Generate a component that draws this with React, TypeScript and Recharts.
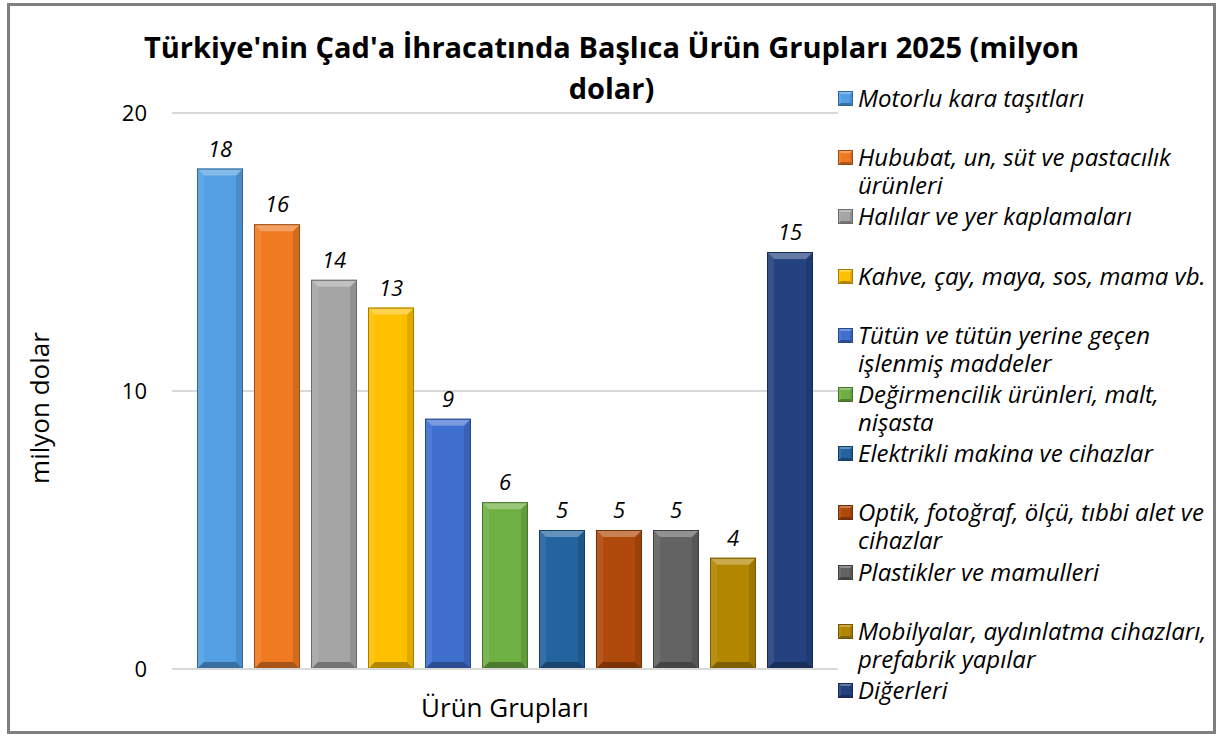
import { BarChart, Bar, XAxis, YAxis, CartesianGrid, LabelList } from "recharts";

const TITLE_LINES = ["Türkiye'nin Çad'a İhracatında Başlıca Ürün Grupları 2025 (milyon", "dolar)"];
const CATEGORY = "Ürün Grupları";
const Y_LABEL = "milyon dolar";
const Y_TICKS = [0, 10, 20];

// legend text, "\n" marks where the original wraps
const SERIES_NAMES = [
  "Motorlu kara taşıtları",
  "Hububat, un, süt ve pastacılık\nürünleri",
  "Halılar ve yer kaplamaları",
  "Kahve, çay, maya, sos, mama vb.",
  "Tütün ve tütün yerine geçen\nişlenmiş maddeler",
  "Değirmencilik ürünleri, malt,\nnişasta",
  "Elektrikli makina ve cihazlar",
  "Optik, fotoğraf, ölçü, tıbbi alet ve\ncihazlar",
  "Plastikler ve mamulleri",
  "Mobilyalar, aydınlatma cihazları,\nprefabrik yapılar",
  "Diğerleri",
];
const SERIES_VALUES = [18, 16, 14, 13, 9, 6, 5, 5, 5, 4, 15];
const SERIES_COLORS = [
  "#529fe4", "#ef7a22", "#a5a5a5", "#ffc000", "#3f6fcf", "#6fb043",
  "#2363a0", "#b04a0c", "#636363", "#b38600", "#23427f",
];

const row: Record<string, string | number> = { name: CATEGORY };
SERIES_VALUES.forEach((v, i) => { row[`s${i}`] = v; });
const data = [row];

const FONT = "'Open Sans', 'Liberation Sans', sans-serif";

function shade(hex: string, amt: number) {
  const n = parseInt(hex.slice(1), 16);
  const ch = [(n >> 16) & 255, (n >> 8) & 255, n & 255];
  const f = (c: number) => (amt < 0 ? Math.round(c * (1 + amt)) : Math.round(c + (255 - c) * amt));
  return `rgb(${ch.map(f).join(",")})`;
}

function Bevel({ x, y, w, h, color, b }: { x: number; y: number; w: number; h: number; color: string; b: number }) {
  return (
    <g>
      <rect x={x} y={y} width={w} height={h} fill={color} />
      <polygon points={`${x},${y} ${x + b},${y + b} ${x + b},${y + h - b} ${x},${y + h}`} fill={shade(color, 0.08)} />
      <polygon points={`${x + w},${y} ${x + w - b},${y + b} ${x + w - b},${y + h - b} ${x + w},${y + h}`} fill={shade(color, -0.12)} />
      <polygon points={`${x},${y} ${x + w},${y} ${x + w - b},${y + b} ${x + b},${y + b}`} fill={shade(color, 0.3)} />
      <polygon points={`${x},${y + h} ${x + w},${y + h} ${x + w - b},${y + h - b} ${x + b},${y + h - b}`} fill={shade(color, -0.3)} />
      <rect x={x + 0.5} y={y + 0.5} width={w - 1} height={h - 1} fill="none" stroke={shade(color, -0.35)} strokeWidth={1} />
    </g>
  );
}

function BevelBar(props: any) {
  const { x, y, width, height, fill } = props;
  if (!height || height <= 0) return null;
  return <Bevel x={x} y={y} w={width} h={height} color={fill} b={Math.min(7, width / 4, height / 2)} />;
}

function YLabel(props: any) {
  const vb = props.viewBox || {};
  const cx = vb.x + 17;
  const cy = vb.y + vb.height / 2 + 17;
  return (
    <text x={cx} y={cy} transform={`rotate(-90 ${cx} ${cy})`} textAnchor="middle" dominantBaseline="central"
      fontSize={26} fill="#000" fontFamily={FONT}>
      {Y_LABEL}
    </text>
  );
}

export default function App() {
  return (
    <div style={{ position: "absolute", left: 0, top: 0, width: 1223, height: 737, background: "#fff", fontFamily: FONT }}>
      <div style={{ position: "absolute", left: 7, top: 3, width: 1203, height: 725, border: "3px solid #7f7f7f" }} />
      <div style={{ position: "absolute", left: 0, top: 26, width: 1223, textAlign: "center", fontWeight: 700, fontSize: 29, lineHeight: "41px", color: "#000" }}>
        {TITLE_LINES.map((t, i) => <div key={i}>{t}</div>)}
      </div>
      <div style={{ position: "absolute", left: 0, top: 0 }}>
        <BarChart width={1223} height={737} data={data} barGap={11} barSize={46}
          margin={{ top: 113, right: 385, bottom: 18, left: 22 }}>
          <CartesianGrid vertical={false} stroke="#d9d9d9" strokeWidth={2} />
          <XAxis dataKey="name" tick={false} tickLine={false} axisLine={{ stroke: "#d9d9d9", strokeWidth: 2 }} height={50}
            label={{ value: CATEGORY, position: "insideBottom", offset: 2, fontSize: 26, fill: "#000", fontFamily: FONT }} />
          <YAxis width={150} domain={[0, 20]} ticks={Y_TICKS} axisLine={false} tickLine={false} tickMargin={19}
            tick={{ fontSize: 22, fill: "#000", fontFamily: FONT }} label={<YLabel />} />
          {SERIES_VALUES.map((_, i) => (
            <Bar key={i} dataKey={`s${i}`} name={SERIES_NAMES[i]} fill={SERIES_COLORS[i]} shape={BevelBar} isAnimationActive={false}>
              <LabelList dataKey={`s${i}`} position="top" offset={12}
                style={{ fontSize: 22, fontStyle: "italic", fill: "#000", fontFamily: FONT }} />
            </Bar>
          ))}
        </BarChart>
      </div>
      <div style={{ position: "absolute", left: 838, top: 84, width: 380 }}>
        {SERIES_NAMES.map((n, i) => (
          <div key={i} style={{ position: "absolute", top: i * 59.2, left: 0, display: "flex", alignItems: "flex-start" }}>
            <svg width={15} height={15} style={{ marginTop: 7, flex: "none" }}>
              <Bevel x={0} y={0} w={15} h={15} color={SERIES_COLORS[i]} b={3} />
            </svg>
            <div style={{ marginLeft: 5, fontStyle: "italic", fontSize: 24, lineHeight: "28px", whiteSpace: "pre", color: "#000" }}>{n}</div>
          </div>
        ))}
      </div>
    </div>
  );
}
